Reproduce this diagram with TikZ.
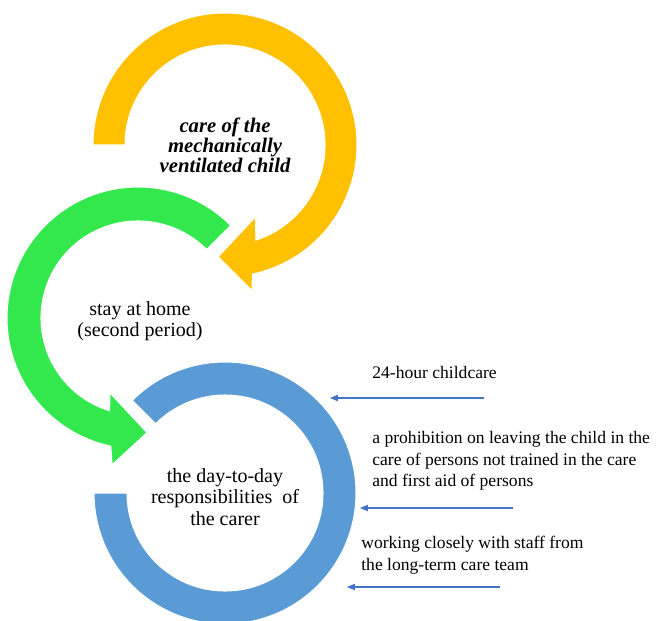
\documentclass[tikz,border=0pt]{standalone}
\usepackage{fontspec}
\setmainfont{Liberation Serif}
\newfontfamily\timesfont{Liberation Serif}
\usepackage{xcolor}
\usepackage{tikz}
\usetikzlibrary{positioning, calc, arrows.meta}

\definecolor{ringyellow}{HTML}{FFC000}
\definecolor{ringgreen}{HTML}{33E84D}
\definecolor{ringblue}{HTML}{5B9BD5}
\definecolor{pointerblue}{HTML}{4472C4}

\tikzset{
    ringpart/.style={draw=white, line width=0.6pt},
    ringlabel/.style={align=center, font=\timesfont\fontsize{11.4}{12.3}\selectfont},
    duty/.style={anchor=west, align=left, inner sep=0pt, font=\timesfont\fontsize{10}{12.2}\selectfont},
    pointer/.style={draw=pointerblue, line width=0.6pt, -{Triangle[length=4.5pt, width=3.6pt]}}
}

\begin{document}
\begin{tikzpicture}[x=0.02cm, y=0.02cm]

        \useasboundingbox (0, 0) rectangle (658, 620);

        % ===================================================
        % Centres of the three rings
        % ===================================================
        \coordinate (Y) at (225, 475);
        \coordinate (G) at (138, 302);
        \coordinate (B) at (225, 127);

        % ===================================================
        % Blue ring (no head)
        % ===================================================
        \begin{scope}[shift={(B)}]
            \fill[ringblue, ringpart] (135:131)
                arc[start angle=135, end angle=-180, radius=131]
                -- (-180:98)
                arc[start angle=-180, end angle=135, radius=98] -- cycle;
        \end{scope}

        % ===================================================
        % Green ring with head
        % ===================================================
        \begin{scope}[shift={(G)}]
            \fill[ringgreen, ringpart] (45:131)
                arc[start angle=45, end angle=258, radius=131]
                -- (260:149) -- (274.5:115) -- (249.5:80) -- (253:97)
                arc[start angle=253, end angle=45, radius=97] -- cycle;
        \end{scope}

        % ===================================================
        % Yellow ring with head
        % ===================================================
        \begin{scope}[shift={(Y)}]
            \fill[ringyellow, ringpart] (180:132)
                arc[start angle=180, end angle=-78, radius=132]
                -- (-79.5:148) -- (-93.5:112) -- (-67:78) -- (-72:100)
                arc[start angle=-72, end angle=180, radius=100] -- cycle;
        \end{scope}

        % ===================================================
        % Labels inside the rings
        % ===================================================
        \node[ringlabel, font=\timesfont\fontsize{11.8}{11.4}\selectfont\bfseries\itshape] (child) at (Y)
            {care of the\\mechanically\\ventilated child};
        \node[ringlabel] (home) at (140, 299) {stay at home\\(second period)};
        \node[ringlabel] (carer) at (225, 123)
            {the day-to-day\\responsibilities~ of\\the carer};

        % ===================================================
        % Duties on the right
        % ===================================================
        \node[duty] (care24) at (372, 248) {24-hour childcare};
        \node[duty] (prohibition) at (372, 159)
            {a prohibition on leaving the child in the\\care of persons not trained in the care\\and first aid of persons};
        \node[duty] (teamwork) at (361, 65)
            {working closely with staff from\\the long-term care team};

        % ===================================================
        % Pointers to the blue ring
        % ===================================================
        \coordinate (p1s) at (484, 222);
        \coordinate (p1e) at (330, 222);
        \coordinate (p2s) at (513, 112);
        \coordinate (p2e) at (360, 112);
        \coordinate (p3s) at (500, 33);
        \coordinate (p3e) at (347, 33);

        \draw[pointer] (p1s) -- (p1e);
        \draw[pointer] (p2s) -- (p2e);
        \draw[pointer] (p3s) -- (p3e);

    \end{tikzpicture}
\end{document}
